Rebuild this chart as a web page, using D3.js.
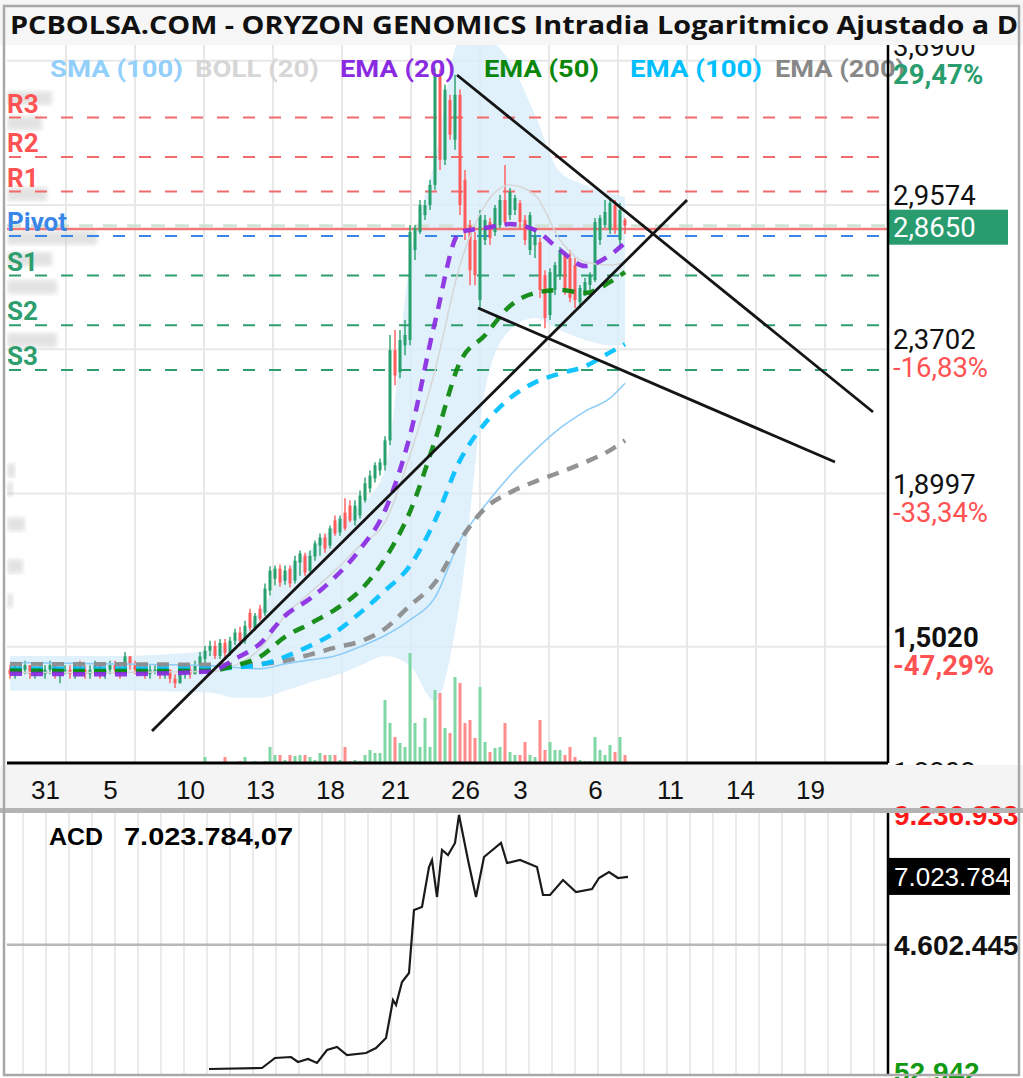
<!DOCTYPE html>
<html>
<head>
<meta charset="utf-8">
<script src="https://cdn.jsdelivr.net/npm/d3@7"></script>
<style>
  html, body { margin: 0; padding: 0; background: #fff; }
  svg { display: block; font-family: Roboto, "Noto Sans", sans-serif; }
</style>
</head>
<body>
<svg id="chart" width="1023" height="1078"></svg>
<script>
// Candles, one per intraday bar: [open, high, low, close]
const candles = [
  [1.45,1.46,1.43,1.44],[1.44,1.46,1.43,1.45],[1.45,1.46,1.44,1.45],[1.45,1.47,1.44,1.46],
  [1.46,1.46,1.43,1.44],[1.44,1.45,1.43,1.45],[1.45,1.46,1.44,1.44],[1.44,1.46,1.43,1.45],
  [1.45,1.47,1.44,1.46],[1.46,1.46,1.43,1.44],[1.44,1.45,1.42,1.45],[1.45,1.46,1.44,1.45],
  [1.45,1.46,1.43,1.44],[1.44,1.46,1.43,1.46],[1.46,1.47,1.44,1.45],[1.45,1.46,1.43,1.44],
  [1.44,1.46,1.43,1.45],[1.45,1.47,1.44,1.46],[1.46,1.46,1.43,1.44],[1.44,1.45,1.43,1.45],
  [1.45,1.47,1.44,1.46],[1.46,1.47,1.44,1.45],[1.45,1.46,1.43,1.44],[1.44,1.49,1.44,1.48],
  [1.48,1.48,1.45,1.46],[1.46,1.47,1.44,1.45],[1.45,1.46,1.44,1.45],[1.45,1.46,1.43,1.44],
  [1.44,1.46,1.43,1.45],[1.45,1.46,1.44,1.45],[1.45,1.46,1.43,1.44],[1.44,1.46,1.43,1.45],
  [1.45,1.45,1.42,1.43],[1.43,1.44,1.41,1.42],[1.42,1.45,1.42,1.44],[1.44,1.46,1.43,1.45],
  [1.45,1.46,1.43,1.44],[1.44,1.47,1.44,1.46],[1.46,1.49,1.45,1.48],
  [1.474,1.504,1.465,1.493],[1.493,1.516,1.481,1.504],[1.504,1.516,1.474,1.481],[1.481,1.520,1.474,1.511],
  [1.511,1.520,1.477,1.488],[1.488,1.525,1.481,1.516],[1.516,1.544,1.506,1.535],[1.535,1.549,1.504,1.516],
  [1.516,1.563,1.509,1.551],[1.582,1.592,1.539,1.546],[1.546,1.582,1.539,1.575],[1.592,1.602,1.563,1.568],
  [1.582,1.655,1.575,1.642],[1.637,1.699,1.625,1.688],[1.667,1.701,1.650,1.693],[1.693,1.704,1.647,1.657],
  [1.662,1.701,1.652,1.688],[1.693,1.701,1.645,1.655],[1.662,1.727,1.655,1.714],[1.709,1.741,1.675,1.733],
  [1.727,1.735,1.675,1.683],[1.688,1.741,1.683,1.727],[1.725,1.768,1.714,1.760],[1.754,1.787,1.727,1.776],
  [1.776,1.787,1.735,1.746],[1.754,1.809,1.746,1.801],[1.823,1.837,1.781,1.787],[1.790,1.837,1.781,1.828],
  [1.845,1.886,1.795,1.801],[1.865,1.880,1.818,1.823],[1.823,1.880,1.809,1.865],[1.837,1.909,1.828,1.894],
  [1.880,1.947,1.874,1.930],[1.915,1.968,1.903,1.953],[1.944,1.993,1.932,1.984],[1.968,2.005,1.953,1.993],
  [1.984,2.074,1.968,2.061],[2.061,2.423,2.046,2.367],[2.367,2.441,2.243,2.277],[2.288,2.441,2.267,2.404],
  [2.385,2.479,2.349,2.423],[2.404,2.868,2.385,2.837],[2.760,2.868,2.718,2.855],[2.837,2.980,2.829,2.957],
  [2.912,2.980,2.890,2.957],[2.957,3.074,2.935,3.050],[3.050,3.651,3.027,3.612],[3.612,3.640,3.121,3.170],
  [3.170,3.557,3.145,3.530],[3.475,3.502,3.269,3.294],[3.269,3.612,3.219,3.502],[3.502,3.530,2.912,2.957],
  [3.074,3.121,2.803,2.846],[2.868,2.890,2.615,2.676],[2.803,2.837,2.615,2.656],[2.556,2.935,2.525,2.912],
  [2.803,2.912,2.781,2.890],[2.881,2.899,2.781,2.811],[2.837,2.957,2.820,2.944],[2.868,3.003,2.855,2.980],
  [2.980,3.145,2.868,2.881],[2.912,3.036,2.890,3.017],[2.935,3.003,2.912,2.989],[2.966,2.980,2.855,2.881],
  [2.890,2.912,2.781,2.803],[2.760,2.926,2.739,2.912],[2.781,2.846,2.726,2.824],[2.794,2.812,2.564,2.596],
  [2.656,2.676,2.448,2.487],[2.498,2.684,2.479,2.668],[2.596,2.710,2.576,2.697],[2.656,2.773,2.636,2.760],
  [2.739,2.751,2.576,2.596],[2.726,2.760,2.548,2.564],[2.697,2.726,2.525,2.556],[2.548,2.616,2.525,2.604],
  [2.588,2.644,2.572,2.628],[2.616,2.668,2.596,2.656],[2.636,2.899,2.628,2.881],[2.803,2.912,2.781,2.899],
  [2.868,2.980,2.855,2.926],[2.846,2.989,2.829,2.966],[2.957,2.980,2.829,2.846],[2.803,2.966,2.768,2.935],
  [2.890,2.899,2.829,2.865]
];

// Volume per bar (thousands of shares)
const volumes = [
  0,0,0,0,0,0,0,0,0,0,0,0,0,0,0,0,0,0,0,0,0,0,0,0,0,0,0,0,0,0,0,0,0,0,0,0,0,0,0,
  120,20,20,20,120,20,20,40,120,20,40,20,40,320,160,160,60,160,140,160,160,120,60,200,160,160,
  160,60,320,40,60,40,160,260,200,200,1260,800,520,400,320,2200,800,320,900,320,1460,1400,700,600,
  1720,1600,800,860,500,1520,420,220,300,320,800,220,160,160,420,160,120,860,260,420,260,260,160,
  320,120,60,40,40,520,260,160,360,220,520,160
];

// Indicator samples, read at these bar indexes
const maIdx   = [0, 20, 40, 45, 50, 55, 60, 65, 70, 75, 80, 85, 90, 95, 100, 105, 110, 115, 120, 123];
const ema20   = [1.441,1.440,1.446,1.474,1.509,1.575,1.617,1.671,1.744,1.851,2.077,2.471,2.837,2.855,2.872,2.846,2.760,2.693,2.739,2.790];
const ema50   = [1.448,1.447,1.448,1.459,1.479,1.525,1.556,1.590,1.637,1.719,1.848,2.061,2.324,2.422,2.533,2.584,2.596,2.584,2.628,2.668];
const ema100  = [1.452,1.452,1.452,1.455,1.461,1.479,1.504,1.535,1.582,1.637,1.701,1.823,1.999,2.116,2.199,2.253,2.284,2.309,2.359,2.389];
const ema200  = [1.462,1.462,1.461,1.461,1.463,1.470,1.484,1.500,1.514,1.544,1.600,1.657,1.768,1.857,1.903,1.935,1.963,1.993,2.030,2.061];
const sma100  = [1.466,1.463,1.459,1.455,1.452,1.463,1.472,1.481,1.502,1.528,1.565,1.620,1.768,1.865,1.953,2.030,2.100,2.155,2.199,2.250];
const bollUp  = [1.481,1.481,1.493,1.516,1.587,1.683,1.741,1.809,1.865,1.968,2.718,3.170,3.811,3.811,3.684,3.397,3.111,3.050,3.012,2.993];
const bollLow = [1.404,1.404,1.400,1.389,1.389,1.404,1.422,1.437,1.459,1.481,1.459,1.382,1.612,2.226,2.441,2.487,2.441,2.404,2.385,2.385];
const bollMid = [1.444,1.444,1.446,1.459,1.497,1.575,1.632,1.688,1.754,1.818,2.015,2.295,2.697,2.957,3.050,3.003,2.803,2.710,2.697,2.710];

// Pivot levels
const pivotNames  = ["R3", "R2", "R1", "Pivot", "S1", "S2", "S3"];
const pivotValues = [3.382, 3.183, 3.019, 2.820, 2.654, 2.459, 2.296];

// Reference / last price
const refPrice = 2.85;
const lastPrice = 2.865;
const lastLabel = "2,8650";

// Right axis ticks
const priceTicks  = [3.69, 2.9574, 2.3702, 1.8997, 1.2202];
const priceLabels = ["3,6900", "2,9574", "2,3702", "1,8997", "1,2202"];
const pctLabels   = ["29,47%", "3,77%", "-16,83%", "-33,34%", "-57,19%"];
const lowPrice = 1.502, lowLabel = "1,5020", lowPct = "-47,29%";

// Date axis
const dateIdx    = [7, 20, 36, 50, 64, 77, 91, 102, 117, 132, 146, 160];
const dateLabels = ["31", "5", "10", "13", "18", "21", "26", "3", "6", "11", "14", "19"];
const gridIdx    = [11.2, 25, 38.8, 52.6, 66.4, 80.2, 94, 107.8, 121.6, 135.4, 149.2, 163];

// Faint volume-by-price profile on the left
const profilePrices = [3.484, 3.353, 3.008, 2.812, 2.722, 2.608, 2.404, 1.968, 1.912, 1.812, 1.699, 1.612];
const profileVols   = [45, 35, 40, 90, 45, 50, 50, 8, 6, 18, 16, 6];

// Hand drawn trend lines: [bar index, price]
const trendFrom = [[28.4, 1.320], [89.4, 3.610], [93.6, 2.525]];
const trendTo   = [[135.4, 2.980], [172.6, 2.153], [165, 1.994]];

// ACD (accumulation / distribution)
const acdIdx  = [39.8,50.4,53,56.2,57.6,59.6,61.4,63.4,65.4,67.4,71.2,73.2,75.2,76.6,77.2,78.4,79.8,80.8,82.4,83.8,
                 84.4,85.4,86.4,87.6,89,89.8,91.6,93.2,94.8,98.2,99.4,102,105.4,106.6,108,110.6,113.2,116.4,117.8,119.8,121.6,123.6];
const acdVals = [160000,195900,553200,588970,410300,517500,374600,839100,946300,660400,731900,910600,1267900,2625900,2447200,
                 3269100,3590700,5842000,5949200,7378600,7628700,6306600,7986100,7807400,8236300,9236900,7628700,6306600,
                 7736000,8236300,7521600,7628700,7378600,6378000,6378000,6914100,6485200,6592400,6985500,7200000,6985500,7023784];
const acdTicks = [9236933, 4602445, 52942];
const acdTickLabels = ["9.236.933", "4.602.445", "52.942"];
const acdTickColors = ["#ff1a1a", "#111", "#119911"];
const acdLast = 7023784, acdLastLabel = "7.023.784", acdHeader = "7.023.784,07";

// Legend
const legendNames  = ["SMA (100)", "BOLL (20)", "EMA (20)", "EMA (50)", "EMA (100)", "EMA (200)"];
const legendColors = ["#92d0fb", "#d6d6d6", "#8a2be2", "#0a870a", "#00bfff", "#888888"];

// ---------- layout ----------
const svg = d3.select("#chart");
const plot = {left: 7, right: 888, top: 45, bottom: 763};
const acdBox = {top: 813, bottom: 1075};
const UP = "#26a06c", DOWN = "#ff5b5b";

const x = d3.scaleLinear().domain([0, 123]).range([10, 625]);
const y = d3.scaleLog().domain([1.2202, 3.69]).range([782.2, 60.7]);
const vy = d3.scaleLinear().domain([0, 2200]).range([plot.bottom, plot.bottom - 110]);
const ay = d3.scaleLinear().domain([52942, 9236933]).range([1072, 815]);

const defs = svg.append("defs");
defs.append("clipPath").attr("id", "clipMain").append("rect")
    .attr("x", plot.left).attr("y", plot.top)
    .attr("width", plot.right - plot.left).attr("height", plot.bottom - plot.top);
defs.append("clipPath").attr("id", "clipAcd").append("rect")
    .attr("x", plot.left).attr("y", acdBox.top)
    .attr("width", plot.right - plot.left).attr("height", acdBox.bottom - acdBox.top);
defs.append("filter").attr("id", "blur").append("feGaussianBlur").attr("stdDeviation", 2.2);

svg.append("rect").attr("width", 1023).attr("height", 1078).attr("fill", "#fff");

const main = svg.append("g").attr("clip-path", "url(#clipMain)");

// grid
main.selectAll(".vgrid").data(gridIdx).enter().append("line")
    .attr("x1", d => x(d)).attr("x2", d => x(d))
    .attr("y1", plot.top).attr("y2", plot.bottom)
    .attr("stroke", "#e8e8e8").attr("stroke-width", 2);
main.selectAll(".hgrid").data(priceTicks.concat([lowPrice])).enter().append("line")
    .attr("x1", plot.left).attr("x2", plot.right)
    .attr("y1", d => y(d)).attr("y2", d => y(d))
    .attr("stroke", "#e8e8e8").attr("stroke-width", 2);

// Bollinger band fill
const band = d3.area()
    .x((d, i) => x(maIdx[i]))
    .y0((d, i) => y(bollLow[i]))
    .y1((d, i) => y(bollUp[i]))
    .curve(d3.curveMonotoneX);
main.append("path").datum(bollUp).attr("d", band)
    .attr("fill", "#d9edfb").attr("opacity", 0.8);

// volume profile
const px = d3.scaleLinear().domain([0, 90]).range([0, 90]);
main.selectAll(".prof").data(profilePrices).enter().append("rect")
    .attr("x", plot.left).attr("y", d => y(d) - 7)
    .attr("width", (d, i) => px(profileVols[i])).attr("height", 14)
    .attr("fill", "#cccccc").attr("opacity", 0.55).attr("filter", "url(#blur)");

// volume bars
main.selectAll(".vol").data(volumes).enter().append("rect")
    .attr("x", (d, i) => x(i) - 1.5).attr("width", 3)
    .attr("y", d => vy(d)).attr("height", d => plot.bottom - vy(d))
    .attr("fill", (d, i) => candles[i][3] >= candles[i][0] ? "#7fd8a3" : "#ff8c8c");

// pivot lines
const pivotColor = n => n[0] === "R" ? "#f26b6b" : (n[0] === "S" ? "#2e9e6e" : "#3a86e8");
main.selectAll(".pivot").data(pivotValues).enter().append("line")
    .attr("x1", plot.left + 2).attr("x2", plot.right)
    .attr("y1", d => y(d)).attr("y2", d => y(d))
    .attr("stroke", (d, i) => pivotColor(pivotNames[i]))
    .attr("stroke-width", 2).attr("stroke-dasharray", "12,14");

// last price (faint dashed) and reference price (red solid)
main.append("line").attr("x1", plot.left).attr("x2", plot.right)
    .attr("y1", y(lastPrice)).attr("y2", y(lastPrice))
    .attr("stroke", "#cfe3d7").attr("stroke-width", 3).attr("stroke-dasharray", "14,10");
main.append("line").attr("x1", plot.left).attr("x2", plot.right)
    .attr("y1", y(refPrice)).attr("y2", y(refPrice))
    .attr("stroke", "#f27878").attr("stroke-width", 2.5);

// candles
const cg = main.selectAll(".candle").data(candles).enter().append("g");
cg.append("line")
    .attr("x1", (d, i) => x(i)).attr("x2", (d, i) => x(i))
    .attr("y1", d => y(d[1])).attr("y2", d => y(d[2]))
    .attr("stroke", d => d[3] >= d[0] ? UP : DOWN).attr("stroke-width", 1.4);
cg.append("rect")
    .attr("x", (d, i) => x(i) - 1.5).attr("width", 3)
    .attr("y", d => y(Math.max(d[0], d[3])))
    .attr("height", d => Math.max(1.5, y(Math.min(d[0], d[3])) - y(Math.max(d[0], d[3]))))
    .attr("fill", d => d[3] >= d[0] ? UP : DOWN);

// moving averages
const maLine = d3.line().x((d, i) => x(maIdx[i])).y(d => y(d)).curve(d3.curveMonotoneX);
main.append("path").datum(bollMid).attr("d", maLine)
    .attr("fill", "none").attr("stroke", "#d5d5d5").attr("stroke-width", 1.5);
main.append("path").datum(sma100).attr("d", maLine)
    .attr("fill", "none").attr("stroke", "#8fcdf7").attr("stroke-width", 1.6);

[[ema200, "#8a8a8a"], [ema100, "#00bfff"], [ema50, "#0a870a"], [ema20, "#8a2be2"]].forEach(([vals, col]) => {
    main.append("path").datum(vals).attr("d", maLine)
        .attr("fill", "none").attr("stroke", col).attr("stroke-width", 4.5)
        .attr("stroke-dasharray", "12,9").attr("opacity", 0.92);
});

// trend lines
main.selectAll(".trend").data(trendFrom).enter().append("line")
    .attr("x1", d => x(d[0])).attr("y1", d => y(d[1]))
    .attr("x2", (d, i) => x(trendTo[i][0])).attr("y2", (d, i) => y(trendTo[i][1]))
    .attr("stroke", "#151515").attr("stroke-width", 2.8);

// pivot labels
svg.selectAll(".plabel").data(pivotValues).enter().append("text")
    .attr("x", plot.left).attr("y", d => y(d) - 5)
    .attr("fill", (d, i) => pivotColor(pivotNames[i]).replace("#f26b6b", "#ff5252"))
    .attr("font-size", 26).attr("font-weight", "bold")
    .text((d, i) => pivotNames[i]);

// legend
const legendX = [50, 195, 340, 484, 630, 775];
const legendW = [133, 124, 115, 115, 132, 130];
svg.selectAll(".legend").data(legendNames).enter().append("text")
    .attr("x", (d, i) => legendX[i]).attr("y", 77)
    .attr("font-size", 24).attr("font-weight", "bold")
    .attr("textLength", (d, i) => legendW[i]).attr("lengthAdjust", "spacingAndGlyphs")
    .attr("fill", (d, i) => legendColors[i])
    .text(d => d);

// right price axis (the top label is pushed up a little, as in the app)
const yAxis = svg.append("g").attr("transform", `translate(${plot.right},0)`)
    .call(d3.axisRight(y).tickValues(priceTicks).tickFormat((d, i) => priceLabels[i]).tickSize(0).tickPadding(5));
yAxis.select(".domain").remove();
yAxis.selectAll(".tick").attr("transform", (d, i) => `translate(0,${y(d) - (i === 0 ? 5 : 0)})`);
yAxis.selectAll("text").attr("dy", 0).attr("font-size", 27.5)
    .attr("font-family", "Roboto, sans-serif").attr("fill", "#111");
yAxis.selectAll(".tick").append("text")
    .attr("x", 5).attr("y", 28).attr("font-size", 27.5)
    .attr("font-family", "Roboto, sans-serif")
    .attr("font-weight", (d, i) => i === 0 ? "bold" : "normal")
    .attr("fill", (d, i) => pctLabels[i][0] === "-" ? "#ff5252" : "#2a9d6e")
    .text((d, i) => pctLabels[i]);

const low = svg.append("g").attr("transform", `translate(${plot.right + 5},${y(lowPrice)})`);
low.append("text").attr("y", 0).attr("font-size", 27.5).attr("font-weight", "bold").attr("fill", "#111").text(lowLabel);
low.append("text").attr("y", 28).attr("font-size", 27.5).attr("font-weight", "bold").attr("fill", "#ff5252").text(lowPct);

// last price box
svg.append("rect").attr("x", plot.right).attr("y", y(lastPrice) - 16)
    .attr("width", 120).attr("height", 35).attr("fill", "#289c6f");
svg.append("text").attr("x", plot.right + 5).attr("y", y(lastPrice) + 11)
    .attr("font-size", 27.5).attr("fill", "#fff").text(lastLabel);

// axis frame lines
svg.append("line").attr("x1", plot.right).attr("x2", plot.right)
    .attr("y1", plot.top).attr("y2", plot.bottom).attr("stroke", "#000").attr("stroke-width", 2.5);
svg.append("line").attr("x1", plot.left).attr("x2", plot.right)
    .attr("y1", plot.bottom).attr("y2", plot.bottom).attr("stroke", "#000").attr("stroke-width", 3);

// date strip
svg.append("rect").attr("x", 0).attr("y", plot.bottom + 2).attr("width", 1023).attr("height", 44).attr("fill", "#f4f4f4");
const xAxis = svg.append("g").attr("transform", `translate(0,${plot.bottom})`)
    .call(d3.axisBottom(x).tickValues(dateIdx).tickFormat((d, i) => dateLabels[i]).tickSize(0));
xAxis.select(".domain").remove();
xAxis.selectAll("text").attr("dy", 0).attr("y", 36)
    .attr("font-family", "'Liberation Sans', Arial, sans-serif").attr("font-size", 26).attr("fill", "#111");

// ---------- ACD panel ----------
const acd = svg.append("g").attr("clip-path", "url(#clipAcd)");
acd.selectAll(".agrid").data(d3.range(2.6, 176, 4.6)).enter().append("line")
    .attr("x1", d => x(d)).attr("x2", d => x(d))
    .attr("y1", acdBox.top).attr("y2", acdBox.bottom)
    .attr("stroke", "#ebebeb").attr("stroke-width", 2);
acd.append("line").attr("x1", plot.left).attr("x2", plot.right)
    .attr("y1", ay(acdTicks[1])).attr("y2", ay(acdTicks[1]))
    .attr("stroke", "#b8b8b8").attr("stroke-width", 2.5);
acd.append("path").datum(acdVals)
    .attr("d", d3.line().x((d, i) => x(acdIdx[i])).y(d => ay(d)))
    .attr("fill", "none").attr("stroke", "#1a1a1a").attr("stroke-width", 2.2);

svg.append("text").attr("x", 49).attr("y", 845)
    .attr("font-family", "'Liberation Sans', Arial, sans-serif").attr("font-size", 24).attr("font-weight", "bold")
    .attr("textLength", 54).attr("lengthAdjust", "spacingAndGlyphs").text("ACD");
svg.append("text").attr("x", 124).attr("y", 845)
    .attr("font-family", "'Liberation Sans', Arial, sans-serif").attr("font-size", 24).attr("font-weight", "bold")
    .attr("textLength", 169).attr("lengthAdjust", "spacingAndGlyphs").text(acdHeader);

const aAxis = svg.append("g").attr("transform", `translate(${plot.right},0)`)
    .call(d3.axisRight(ay).tickValues(acdTicks).tickFormat((d, i) => acdTickLabels[i]).tickSize(0).tickPadding(6));
aAxis.select(".domain").remove();
aAxis.selectAll("text").attr("dy", "0.35em")
    .attr("font-family", "'Liberation Sans', Arial, sans-serif").attr("font-size", 28).attr("font-weight", "bold")
    .attr("fill", (d, i) => acdTickColors[i]);

svg.append("rect").attr("x", plot.right).attr("y", ay(acdLast) - 19)
    .attr("width", 122).attr("height", 37).attr("fill", "#000");
svg.append("text").attr("x", plot.right + 6).attr("y", ay(acdLast) + 9)
    .attr("font-family", "'Liberation Sans', Arial, sans-serif").attr("font-size", 26)
    .attr("fill", "#fff").text(acdLastLabel);

svg.append("line").attr("x1", plot.right).attr("x2", plot.right)
    .attr("y1", acdBox.top).attr("y2", acdBox.bottom).attr("stroke", "#000").attr("stroke-width", 2.5);
// separator between the panels
svg.append("rect").attr("x", 0).attr("y", 808).attr("width", 1023).attr("height", 5).attr("fill", "#b4b4b4");

// ---------- title + frame ----------
svg.append("rect").attr("x", 0).attr("y", 0).attr("width", 1023).attr("height", 45).attr("fill", "#f6f6f6");
svg.append("text").attr("x", 10).attr("y", 34)
    .attr("font-family", "'Open Sans', sans-serif").attr("font-size", 25).attr("font-weight", "bold")
    .attr("textLength", 1008).attr("lengthAdjust", "spacingAndGlyphs").attr("fill", "#111")
    .text("PCBOLSA.COM - ORYZON GENOMICS Intradia Logaritmico Ajustado a D");
svg.append("rect").attr("x", 4).attr("y", 6).attr("width", 1015).attr("height", 1069)
    .attr("fill", "none").attr("stroke", "#a8a8a8").attr("stroke-width", 2.5);
</script>
</body>
</html>
